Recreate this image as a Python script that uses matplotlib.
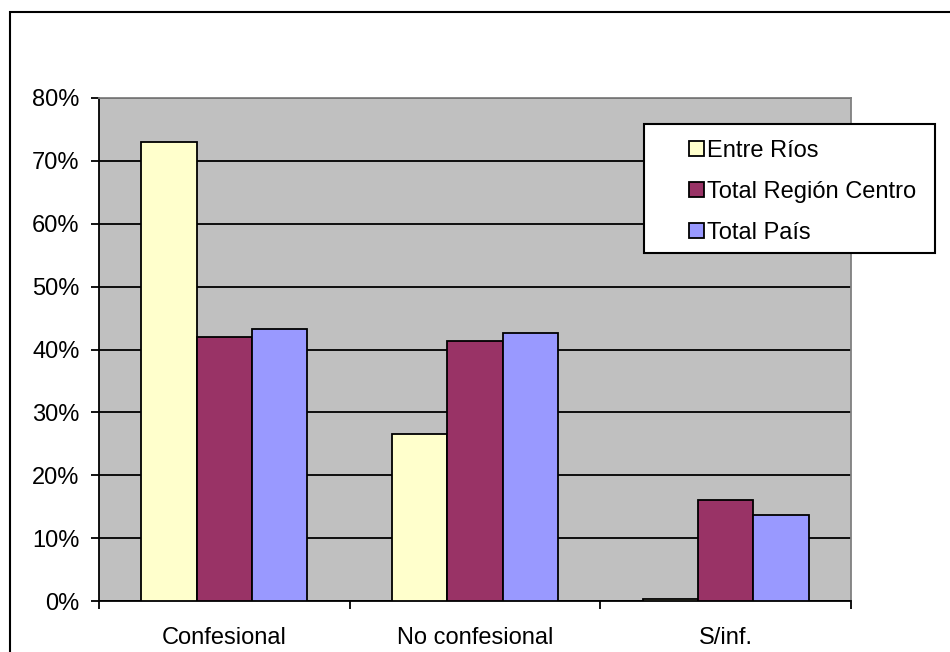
import matplotlib.pyplot as plt
from matplotlib.patches import Rectangle
from matplotlib.ticker import PercentFormatter
import numpy as np

plt.rcParams['font.family'] = ['Liberation Sans', 'DejaVu Sans']

categorias = ['Confesional', 'No confesional', 'S/inf.']
series = ['Entre Ríos', 'Total Región Centro', 'Total País']
entre_rios = [73.0, 26.5, 0.3]
region_centro = [42.0, 41.4, 16.0]
total_pais = [43.3, 42.7, 13.7]
colores = ['#FFFFCC', '#993366', '#9999FF']

fs = 17

fig = plt.figure(figsize=(9.5, 6.52), dpi=100)
ax = fig.add_axes([99 / 950, 51 / 652, 752 / 950, 503 / 652])
ax.set_facecolor('#C0C0C0')

x = np.arange(len(categorias))
w = 0.221
valores = [entre_rios, region_centro, total_pais]
handles = []
for i, (v, c, s) in enumerate(zip(valores, colores, series)):
    b = ax.bar(x + (i - 1) * w, v, w, color=c, edgecolor='black',
               linewidth=1.3, label=s, zorder=3)
    handles.append(b)

ax.set_xlim(-0.5, 2.5)
ax.set_ylim(0, 80)
ax.set_yticks(np.arange(0, 81, 10))
ax.yaxis.set_major_formatter(PercentFormatter(decimals=0))
ax.yaxis.grid(True, color='black', linewidth=1.3, zorder=1)
ax.set_axisbelow(True)

ax.set_xticks(x)
ax.set_xticklabels(categorias)
ax.tick_params(axis='x', length=0, pad=19, labelsize=fs)
ax.set_xticks([-0.5, 0.5, 1.5, 2.5], minor=True)
ax.tick_params(axis='x', which='minor', length=6, width=1.3, direction='out')
ax.tick_params(axis='y', length=6, width=1.3, direction='out', labelsize=fs, pad=8)

for sp in ['left', 'bottom']:
    ax.spines[sp].set_color('black')
    ax.spines[sp].set_linewidth(1.3)
for sp in ['top', 'right']:
    ax.spines[sp].set_color('#808080')
    ax.spines[sp].set_linewidth(1.3)

# marco exterior
fig.patches.append(Rectangle((10 / 950, -0.05), 1.2, (652 - 12) / 652 + 0.05,
                             transform=fig.transFigure, fill=False,
                             edgecolor='black', linewidth=1.5))

# caja de leyenda
fig.patches.append(Rectangle((644 / 950, (652 - 253) / 652), 291 / 950, 129 / 652,
                             transform=fig.transFigure, facecolor='white',
                             edgecolor='black', linewidth=1.5, zorder=5))
leg = fig.legend(handles=handles, labels=series, loc='upper left',
                 bbox_to_anchor=(689 / 950, (652 - 140) / 652),
                 frameon=False, fontsize=fs, handlelength=0.62,
                 handleheight=0.62, handletextpad=0.15, labelspacing=0.8,
                 borderpad=0, borderaxespad=0)
leg.set_zorder(6)

fig.savefig('out.png', dpi=100)
